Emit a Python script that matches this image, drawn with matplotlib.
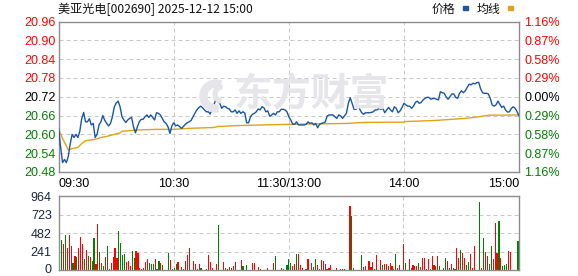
import matplotlib
matplotlib.use("Agg")
import matplotlib.pyplot as plt
import matplotlib.transforms as mtransforms
from matplotlib.patches import Rectangle, Wedge

# ---------------- data ----------------
title = "美亚光电[002690] 2025-12-12 15:00"
legend_labels = ["价格", "均线"]
watermark = "东方财富"
prev_close = 20.72

price = [
    20.616, 20.56, 20.51, 20.52, 20.51, 20.53, 20.57, 20.60, 20.59, 20.60,
    20.59, 20.61, 20.65, 20.67, 20.64, 20.64, 20.65, 20.63, 20.635, 20.59,
    20.60, 20.63, 20.64, 20.66, 20.645, 20.635, 20.627, 20.635, 20.656, 20.688,
    20.70, 20.706, 20.688, 20.656, 20.646, 20.638, 20.646, 20.651, 20.654, 20.624,
    20.605, 20.624, 20.64, 20.648, 20.648, 20.656, 20.662, 20.654, 20.662, 20.654,
    20.646, 20.669, 20.667, 20.662, 20.651, 20.64, 20.635, 20.624, 20.603, 20.627,
    20.637, 20.627, 20.630, 20.625, 20.619, 20.625, 20.632, 20.637, 20.640, 20.644,
    20.656, 20.667, 20.678, 20.685, 20.690, 20.685, 20.678, 20.672, 20.672, 20.665,
    20.683, 20.696, 20.712, 20.704, 20.699, 20.683, 20.690, 20.688, 20.683, 20.681,
    20.672, 20.672, 20.678, 20.667, 20.675, 20.667, 20.672, 20.669, 20.637, 20.637,
    20.656, 20.664, 20.667, 20.672, 20.681, 20.678, 20.688, 20.685, 20.672, 20.675,
    20.658, 20.662, 20.667, 20.662, 20.672, 20.672, 20.680, 20.680, 20.678, 20.672,
    20.656, 20.646, 20.633, 20.632, 20.640, 20.630, 20.630, 20.630, 20.630, 20.632,
    20.640, 20.635, 20.637, 20.630, 20.635, 20.621, 20.632, 20.635, 20.637, 20.640,
    20.659, 20.662, 20.662, 20.662, 20.656, 20.651, 20.662, 20.659, 20.651, 20.659,
    20.667, 20.699, 20.717, 20.699, 20.680, 20.680, 20.686, 20.680, 20.669, 20.664,
    20.669, 20.669, 20.669, 20.670, 20.672, 20.678, 20.678, 20.683, 20.680, 20.683,
    20.669, 20.678, 20.686, 20.678, 20.672, 20.688, 20.683, 20.669, 20.675, 20.686,
    20.699, 20.694, 20.690, 20.690, 20.683, 20.690, 20.702, 20.706, 20.699, 20.702,
    20.710, 20.715, 20.718, 20.718, 20.712, 20.714, 20.715, 20.712, 20.710, 20.736,
    20.733, 20.731, 20.720, 20.712, 20.720, 20.729, 20.729, 20.718, 20.715, 20.731,
    20.739, 20.733, 20.739, 20.750, 20.760, 20.758, 20.763, 20.761, 20.765, 20.766,
    20.745, 20.733, 20.731, 20.731, 20.729, 20.715, 20.694, 20.690, 20.694, 20.706,
    20.696, 20.686, 20.690, 20.678, 20.671, 20.672, 20.683, 20.688, 20.683, 20.672,
    20.659,
]

avg_minutes = [0, 2, 4, 5, 7, 10, 12, 14, 19, 22, 26, 32, 33, 41, 51, 60, 67, 81,
               83, 93, 112, 120, 151, 158, 180, 181, 195, 205, 212, 219, 224, 240]
avg_values = [20.616, 20.587, 20.563, 20.550, 20.555, 20.558, 20.571, 20.580,
              20.584, 20.590, 20.595, 20.605, 20.610, 20.614, 20.616, 20.616,
              20.619, 20.622, 20.625, 20.628, 20.631, 20.632, 20.635, 20.638,
              20.639, 20.641, 20.644, 20.648, 20.651, 20.656, 20.661, 20.662]

volume = [
    863, 390, 337, 455, 289, 455, 315, 100, 184, 171,
    289, 434, 337, 149, 258, 180, 171, 127, 420, 88,
    600, 232, 101, 61, 171, 311, 22, 101, 171, 289,
    162, 508, 350, 193, 206, 105, 118, 61, 250, 166,
    250, 223, 35, 22, 35, 114, 153, 101, 88, 88,
    153, 18, 127, 101, 75, 10, 8, 219, 140, 22,
    35, 88, 114, 9, 48, 18, 127, 193, 285, 9,
    127, 88, 22, 88, 35, 9, 9, 22, 193, 114,
    35, 5, 88, 587, 9, 9, 114, 35, 22, 48,
    35, 61, 114, 9, 9, 140, 61, 9, 74, 9,
    9, 101, 101, 9, 48, 22, 9, 9, 9, 35,
    9, 9, 101, 180, 9, 9, 35, 22, 9, 74,
    153, 101, 61, 88, 206, 206, 74, 35, 9, 22,
    153, 9, 101, 48, 153, 74, 22, 140, 127, 88,
    22, 35, 74, 9, 9, 35, 9, 22, 22, 22,
    5, 5, 837, 705, 35, 9, 9, 9, 193, 48,
    61, 9, 127, 48, 114, 22, 193, 9, 140, 74,
    88, 88, 61, 101, 61, 22, 206, 35, 74, 9,
    337, 101, 9, 153, 35, 74, 61, 61, 101, 48,
    166, 166, 22, 153, 22, 180, 74, 61, 180, 61,
    9, 35, 166, 127, 35, 88, 35, 22, 285, 166,
    258, 219, 166, 74, 114, 206, 35, 311, 9, 5,
    889, 35, 416, 232, 180, 88, 311, 153, 613, 219,
    639, 166, 61, 74, 88, 245, 232, 9, 5, 5,
    377,
]
# 'r' = up minute, 'g' = down minute
vol_dir = (
    "ggrgrrrgrg" "rrrgrgrggr" "rgrgrgrrrr" "rggggrrrgg" "rrrrrrrggg"
    "rggrggrgrg" "ggrgrrrrrr" "rrrrggrgrr" "rrrgggrgrr" "grrgrrgrgr"
    "rrrrrgrrrr" "rrrgrgrrrg" "ggrrgrrrrg" "rgrggrrrrr" "rrrggrgrrr"
    "rrrggrrrgr" "rrrrrrrgrg" "rrgrrrgrrr" "rgrrgrrrgr" "rrrrgrrgrg"
    "rggrrrgrrr" "grrggrrrrr" "grgrrggrrr" "grgggrrrrr" "g"
)

price_ticks = [20.48, 20.54, 20.60, 20.66, 20.72, 20.78, 20.84, 20.90, 20.96]
pct_labels = ["1.16%", "0.87%", "0.58%", "0.29%", "0.00%",
              "0.29%", "0.58%", "0.87%", "1.16%"]
vol_ticks = [0, 241, 482, 723, 964]
time_ticks = [0, 60, 120, 180, 240]
time_labels = ["09:30", "10:30", "11:30/13:00", "14:00", "15:00"]

# ---------------- style ----------------
W, H = 578, 276
RED, GREEN, BLACK = "#ff0000", "#008000", "#000000"
BLUE, GOLD = "#1a56a6", "#e0a21a"
FRAME, GRID = "#8c8c8c", "#c8c8c8"
WM = "#e6e6ea"
NUM_FONT = ["Liberation Sans", "DejaVu Sans"]
CJK_FONT = ["Noto Sans CJK SC", "DejaVu Sans"]
plt.rcParams["font.family"] = NUM_FONT


def fx(x):
    return x / W


def fy(y):
    return 1 - y / H


def tick_color(v):
    if abs(v - prev_close) < 1e-9:
        return BLACK
    return RED if v > prev_close else GREEN


fig = plt.figure(figsize=(W / 100, H / 100), dpi=100)
fig.patch.set_facecolor("white")

L, R = 58.7, 519.0
P_TOP, P_BOT = 21.5, 172.0
V_TOP, V_BOT = 196.3, 270.3

ax = fig.add_axes([fx(L), fy(P_BOT), fx(R - L), (P_BOT - P_TOP) / H])
vax = fig.add_axes([fx(L), fy(V_BOT), fx(R - L), (V_BOT - V_TOP) / H])

dash = (0, (4, 3))
for a in (ax, vax):
    for s in a.spines.values():
        s.set_color(FRAME)
        s.set_linewidth(1.0)
    a.set_facecolor("none")

# watermark (logo crescent + text)
pix = mtransforms.IdentityTransform()
fig.patches.append(Wedge((216, H - 96), 16, 70, 280, width=7, transform=pix,
                         color=WM, zorder=0))
fig.patches.append(Wedge((222, H - 94), 9, 90, 260, width=4, transform=pix,
                         color=WM, zorder=0))
fig.text(fx(311), fy(95), watermark, fontsize=28, fontweight="bold",
         color=WM, ha="center", va="center", family=CJK_FONT, zorder=0)

# ---- price panel ----
ax.set_xlim(0, 240)
ax.set_ylim(price_ticks[0], price_ticks[-1])
for v in price_ticks[1:-1]:
    ax.axhline(v, color=GRID, lw=0.72, ls=dash, zorder=1)
for t in time_ticks[1:-1]:
    ax.axvline(t, color=GRID, lw=0.72, ls=dash, zorder=1)

ax.plot(range(len(price)), price, color=BLUE, lw=1.0, zorder=3)
ax.plot(avg_minutes, avg_values, color=GOLD, lw=1.0, zorder=2)

ax.set_yticks(price_ticks)
ax.set_yticklabels([f"{v:.2f}" for v in price_ticks])
for lab, v in zip(ax.get_yticklabels(), price_ticks):
    lab.set_color(tick_color(v))
ax.tick_params(axis="y", length=0, pad=2.2, labelsize=9)

ax.set_xticks(time_ticks)
ax.set_xticklabels(time_labels)
ax.tick_params(axis="x", length=0, pad=4.2, labelsize=9)
xl = ax.get_xticklabels()
xl[0].set_ha("left")
xl[-1].set_ha("right")

ax2 = ax.twinx()
ax2.set_ylim(ax.get_ylim())
ax2.set_yticks(price_ticks)
ax2.set_yticklabels(pct_labels[::-1])
for lab, v in zip(ax2.get_yticklabels(), price_ticks):
    lab.set_color(tick_color(v))
ax2.tick_params(axis="y", length=0, pad=4.0, labelsize=9)
for s in ax2.spines.values():
    s.set_visible(False)

# ---- volume panel ----
vax.set_xlim(-0.5, len(volume) - 0.5)
vax.set_ylim(vol_ticks[0], vol_ticks[-1])
for v in vol_ticks[1:-1]:
    vax.axhline(v, color=GRID, lw=0.72, ls=dash, zorder=1)
for t in time_ticks[1:-1]:
    vax.axvline(t, color=GRID, lw=0.72, ls=dash, zorder=1)
colors = [RED if d == "r" else GREEN for d in vol_dir]
vax.bar(range(len(volume)), volume, width=0.6, color=colors, linewidth=0, zorder=2)
vax.set_xticks([])
vax.set_yticks(vol_ticks)
vax.set_yticklabels([str(v) for v in vol_ticks], color="#1c2540")
vax.tick_params(axis="y", length=0, pad=5.0, labelsize=9)
vlabs = vax.get_yticklabels()
up = mtransforms.ScaledTranslation(0, 2.0 / 100, fig.dpi_scale_trans)
vlabs[0].set_transform(vlabs[0].get_transform() + up)

# ---- title & legend ----
fig.text(fx(58.5), fy(9.5), title, fontsize=8.7, ha="left", va="center",
         family=CJK_FONT, color="#111111")
fig.text(fx(431.5), fy(9.5), legend_labels[0], fontsize=8.6, ha="left",
         va="center", family=CJK_FONT, color="#111111")
fig.text(fx(476.5), fy(9.5), legend_labels[1], fontsize=8.6, ha="left",
         va="center", family=CJK_FONT, color="#111111")
fig.patches.append(Rectangle((fx(462.5), fy(9.5)), fx(5), 3 / H,
                             transform=fig.transFigure, color=BLUE))
fig.patches.append(Rectangle((fx(507.5), fy(9.5)), fx(5), 3 / H,
                             transform=fig.transFigure, color=GOLD))

fig.savefig("out.png", dpi=100)
